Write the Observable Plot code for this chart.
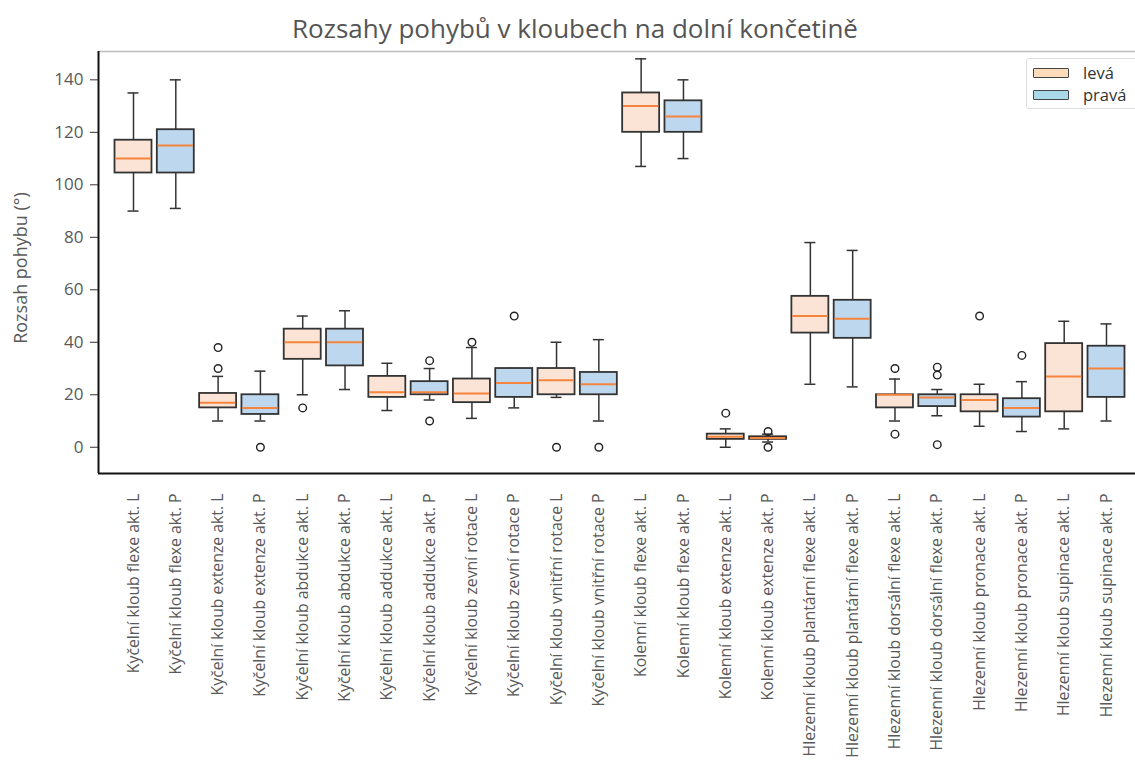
<!DOCTYPE html>
<html>
<head>
<meta charset="utf-8">
<script src="https://cdn.jsdelivr.net/npm/d3@7"></script>
<script src="https://cdn.jsdelivr.net/npm/@observablehq/plot@0.6"></script>
<style>
  body { margin: 0; background: #fff; }
  #wrap { position: relative; width: 1135px; height: 773px; font-family: "Open Sans", sans-serif; overflow: hidden; }
  #title { height: 48px; line-height: 56px; text-align: center; font-size: 26px; color: #555; padding-left: 15px; box-sizing: border-box; white-space: nowrap; }
  #ylabel { position: absolute; left: 20px; top: 268px; transform: translate(-50%, -50%) rotate(-90deg); font-size: 18px; color: #595959; white-space: nowrap; }
  #legend { position: absolute; left: 1026px; top: 58px; width: 130px; height: 49px; border: 1px solid #ddd; border-radius: 3px; background: #fff; font-size: 16.5px; line-height: 18px; color: #333; }
  .item { position: absolute; left: 6px; height: 18px; display: flex; align-items: center; }
  .sw { width: 34px; height: 8px; border: 1.5px solid #444; border-radius: 1px; margin-right: 14px; }
</style>
</head>
<body>
<div id="wrap">
  <div id="title">Rozsahy pohybů v kloubech na dolní končetině</div>
  <div id="chart"></div>
  <div id="ylabel">Rozsah pohybu (°)</div>
  <div id="legend"></div>
</div>
<script>
const labels = [
  "Kyčelní kloub flexe akt. L", "Kyčelní kloub flexe akt. P",
  "Kyčelní kloub extenze akt. L", "Kyčelní kloub extenze akt. P",
  "Kyčelní kloub abdukce akt. L", "Kyčelní kloub abdukce akt. P",
  "Kyčelní kloub addukce akt. L", "Kyčelní kloub addukce akt. P",
  "Kyčelní kloub zevní rotace L", "Kyčelní kloub zevní rotace P",
  "Kyčelní kloub vnitřní rotace L", "Kyčelní kloub vnitřní rotace P",
  "Kolenní kloub flexe akt. L", "Kolenní kloub flexe akt. P",
  "Kolenní kloub extenze akt. L", "Kolenní kloub extenze akt. P",
  "Hlezenní kloub plantární flexe akt. L", "Hlezenní kloub plantární flexe akt. P",
  "Hlezenní kloub dorsální flexe akt. L", "Hlezenní kloub dorsální flexe akt. P",
  "Hlezenní kloub pronace akt. L", "Hlezenní kloub pronace akt. P",
  "Hlezenní kloub supinace akt. L", "Hlezenní kloub supinace akt. P"
];
const sides = ["levá", "pravá"];
const whiskerLow  = [90, 91, 10, 10, 20, 22, 14, 18, 11, 15, 19, 10, 107, 110, 0, 2, 24, 23, 10, 12, 8, 6, 7, 10];
const q1          = [104.5, 104.5, 15, 12.5, 33.5, 31, 19, 20, 17, 19, 20, 20, 120, 120, 3, 3, 43.5, 41.5, 15, 15.5, 13.5, 11.5, 13.5, 19];
const median      = [110, 115, 17, 15, 40, 40, 21, 21, 20.5, 24.5, 25.5, 24, 130, 126, 4, 3.5, 50, 49, 20, 19, 18, 15, 27, 30];
const q3          = [117, 121, 20.5, 20, 45, 45, 27, 25, 26, 30, 30, 28.5, 135, 132, 5, 4, 57.5, 56, 20, 20, 20, 18.5, 39.5, 38.5];
const whiskerHigh = [135, 140, 27, 29, 50, 52, 32, 30, 38, 30, 40, 41, 148, 140, 7, 5, 78, 75, 26, 22, 24, 25, 48, 47];
const outliers    = [[], [], [30, 38], [0], [15], [], [], [33, 10], [40], [50], [0], [0], [], [], [13], [6, 0], [], [], [30, 5], [30.5, 27.5, 1], [50], [35], [], []];
const yTicks = [0, 20, 40, 60, 80, 100, 120, 140];
const colors = {"levá": "#fbe4d5", "pravá": "#bdd7ee"};
const legendColors = {"levá": "#fddcbc", "pravá": "#a9d8e8"};

const table = labels.map((label, i) => ({
  label, pos: i + 1, side: sides[i % 2],
  lo: whiskerLow[i], q1: q1[i], med: median[i], q3: q3[i], hi: whiskerHigh[i]
}));
const outlierRows = outliers.flatMap((arr, i) => arr.map(v => ({pos: i + 1, v})));

const xMin = 0.1727, xMax = 24.6855, yMin = -10, yMax = 150.8;
const hw = 0.437, cap = 0.13;

const chart = Plot.plot({
  width: 1135,
  height: 725,
  marginTop: 3,
  marginBottom: 300,
  marginLeft: 98,
  marginRight: 0,
  style: {fontFamily: "'Open Sans', sans-serif", background: "white"},
  x: {type: "linear", domain: [xMin, xMax], axis: null},
  y: {domain: [yMin, yMax], axis: null},
  marks: [
    Plot.ruleY([yMax], {stroke: "#bbb", strokeWidth: 1.5}),
    Plot.ruleX(table, {x: "pos", y1: "lo", y2: "q1", stroke: "#333", strokeWidth: 1.5}),
    Plot.ruleX(table, {x: "pos", y1: "q3", y2: "hi", stroke: "#333", strokeWidth: 1.5}),
    Plot.ruleY(table, {y: "lo", x1: d => d.pos - cap, x2: d => d.pos + cap, stroke: "#333", strokeWidth: 1.5}),
    Plot.ruleY(table, {y: "hi", x1: d => d.pos - cap, x2: d => d.pos + cap, stroke: "#333", strokeWidth: 1.5}),
    Plot.rect(table.filter(d => d.side === "levá"), {x1: d => d.pos - hw, x2: d => d.pos + hw, y1: "q1", y2: "q3", fill: colors["levá"], stroke: "#333", strokeWidth: 1.8}),
    Plot.rect(table.filter(d => d.side === "pravá"), {x1: d => d.pos - hw, x2: d => d.pos + hw, y1: "q1", y2: "q3", fill: colors["pravá"], stroke: "#333", strokeWidth: 1.8}),
    Plot.ruleY(table, {y: "med", x1: d => d.pos - hw + 0.02, x2: d => d.pos + hw - 0.02, stroke: "#f5843c", strokeWidth: 2}),
    Plot.dot(outlierRows, {x: "pos", y: "v", r: 3.8, stroke: "#222", strokeWidth: 1.4, fill: "none"}),
    Plot.ruleY([yMin], {stroke: "#111", strokeWidth: 2}),
    Plot.ruleX([xMin], {stroke: "#111", strokeWidth: 2}),
    Plot.axisY({ticks: yTicks, tickSize: 8, tickPadding: 7, fontSize: 17, stroke: "#333", fill: "#595959", label: null}),
    Plot.axisX({ticks: table.map(d => d.pos), tickFormat: p => labels[p - 1], tickRotate: -90,
      tickSize: 0, tickPadding: 20, fontSize: 15.8, fill: "#595959", label: null})
  ]
});
d3.select(chart).selectAll('g[aria-label="y-axis tick label"]').attr("font-size", 17);
d3.select(chart).selectAll('g[aria-label="x-axis tick label"]').attr("font-size", 15.8);
document.getElementById("chart").appendChild(chart);

const legend = document.getElementById("legend");
sides.forEach((s, i) => {
  const item = document.createElement("div");
  item.className = "item";
  item.style.top = (i === 0 ? 5 : 27) + "px";
  const sw = document.createElement("div");
  sw.className = "sw";
  sw.style.background = legendColors[s];
  const t = document.createElement("span");
  t.textContent = s;
  item.appendChild(sw);
  item.appendChild(t);
  legend.appendChild(item);
});
</script>
</body>
</html>
